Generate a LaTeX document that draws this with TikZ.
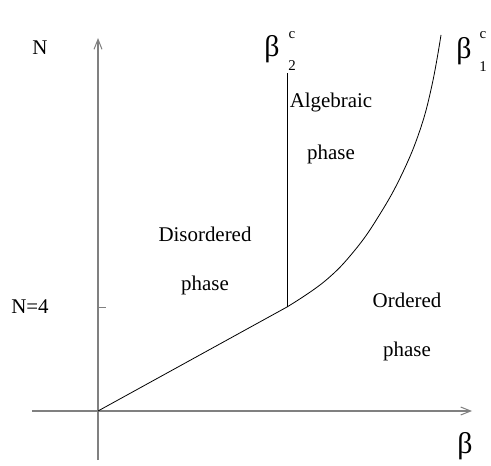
\documentclass[tikz,border=0pt]{standalone}
\usepackage{fontspec}
\setmainfont{Liberation Serif}
\usetikzlibrary{arrows.meta}
\begin{document}
\begin{tikzpicture}[x=1bp,y=-1bp,
  axis/.style={draw=black!50,line width=1.2bp,-{Straight Barb[length=10bp,width=8bp,line width=1bp]}},
  bnd/.style={draw=black,line width=0.8bp},
  lbl/.style={inner sep=0pt,font=\fontsize{21}{21}\selectfont},
  big/.style={inner sep=0pt,font=\fontsize{30}{30}\selectfont},
  scr/.style={inner sep=0pt,font=\fontsize{15}{15}\selectfont}]
\useasboundingbox (0,0) rectangle (491,466);
\coordinate (ybot) at (98,460);
\coordinate (ytop) at (98,38);
\coordinate (xl) at (32,411);
\coordinate (xr) at (472,411);
\coordinate (O) at (98,411);
\coordinate (T) at (287,307);
\coordinate (V) at (287,73);
\coordinate (E) at (441,35);
\coordinate (tick) at (106,307);
\draw[axis] (ybot) -- (ytop);
\draw[axis] (xl) -- (xr);
\draw[draw=black!50,line width=1bp] (O |- T) -- (tick);
\draw[bnd] (O) -- (T);
\draw[bnd] (T) -- (V);
\draw[bnd] plot[smooth,tension=0.7] coordinates {(287,307) (325,281) (355,250) (380,214) (402,174) (420,130) (432,85) (441,35)};
\node[lbl,anchor=base] (nlab) at (40,55) {N};
\node[lbl,anchor=base] (n4) at (30,313) {N=4};
\node[big,anchor=base] (beta) at (465,453) {β};
\node[big,anchor=base] (b2) at (272,57) {β};
\node[scr,anchor=base] (b2s) at (292,71) {2};
\node[scr,anchor=base] (b2c) at (292,39) {c};
\node[big,anchor=base] (b1) at (464,59) {β};
\node[scr,anchor=base] (b1s) at (483,72) {1};
\node[scr,anchor=base] (b1c) at (483,39) {c};
\node[lbl,anchor=base] (d1) at (205,242) {Disordered};
\node[lbl,anchor=base] (d2) at (205,290) {phase};
\node[lbl,anchor=base] (a1) at (331,108) {Algebraic};
\node[lbl,anchor=base] (a2) at (331,160) {phase};
\node[lbl,anchor=base] (o1) at (407,307) {Ordered};
\node[lbl,anchor=base] (o2) at (407,356) {phase};
\end{tikzpicture}
\end{document}
